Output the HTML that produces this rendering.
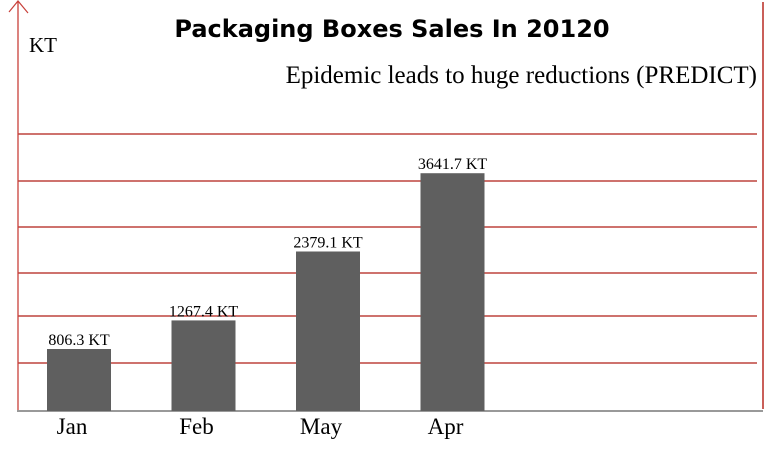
<!DOCTYPE html>
<html><head><meta charset="utf-8"><style>
body{margin:0;background:#fff;}
svg{display:block;}
</style></head><body>
<svg width="772" height="452" viewBox="0 0 772 452">
<g id="grid"></g>
<line x1="763" y1="2" x2="763" y2="409" stroke="#b82a22" stroke-width="1.5"/>
<line x1="18" y1="2" x2="18" y2="411" stroke="#c8403a" stroke-width="1.3"/>
<polyline points="9,12 18,1 28,13" fill="none" stroke="#c8403a" stroke-width="1.2"/>
<line x1="17" y1="411" x2="763" y2="411" stroke="#999" stroke-width="2"/>
<g id="bars"></g>
<text x="392" y="37" text-anchor="middle" font-family="'DejaVu Sans','Liberation Sans',sans-serif" font-weight="bold" font-size="24" fill="#000">Packaging Boxes Sales In 20120</text>
<text x="757" y="83" text-anchor="end" font-family="'Liberation Serif',serif" font-size="25" fill="#000">Epidemic leads to huge reductions (PREDICT)</text>
<text x="29" y="52" font-family="'Liberation Serif',serif" font-size="21" fill="#000">KT</text>
</svg>
<script>
const categories=["Jan","Feb","May","Apr"];
const values=[806.3,1267.4,2379.1,3641.7];
const valueLabels=["806.3 KT","1267.4 KT","2379.1 KT","3641.7 KT"];
const gridYs=[134,181,227,273,316,363];
const ns="http://www.w3.org/2000/svg";
const base=411, scale=0.062, offset=12;
function yPos(v){return base-offset-v*scale;}
function xPos(i){return 47+i*124.5;}
const g=document.getElementById('grid');
gridYs.forEach((y,i)=>{const l=document.createElementNS(ns,'line');
l.setAttribute('x1',18);l.setAttribute('x2',757);l.setAttribute('y1',y);l.setAttribute('y2',y);
l.setAttribute('stroke','#b01e16');l.setAttribute('stroke-width','1.2');


g.appendChild(l);});
const b=document.getElementById('bars');
categories.forEach((c,i)=>{const x=xPos(i),y=yPos(values[i]);
const r=document.createElementNS(ns,'rect');
r.setAttribute('x',x);r.setAttribute('y',y);r.setAttribute('width',64);r.setAttribute('height',base-y);r.setAttribute('fill','#5f5f5f');


b.appendChild(r);
const t=document.createElementNS(ns,'text');
t.setAttribute('x',x+32);t.setAttribute('y',y-4);t.setAttribute('text-anchor','middle');
t.setAttribute('font-family',"'Liberation Serif',serif");t.setAttribute('font-size','16');
t.textContent=valueLabels[i];


b.appendChild(t);
const xl=document.createElementNS(ns,'text');
xl.setAttribute('x',x+25);xl.setAttribute('y',434);xl.setAttribute('text-anchor','middle');
xl.setAttribute('font-family',"'Liberation Serif',serif");xl.setAttribute('font-size','23');
xl.textContent=c;


b.appendChild(xl);});
</script>
</body></html>
